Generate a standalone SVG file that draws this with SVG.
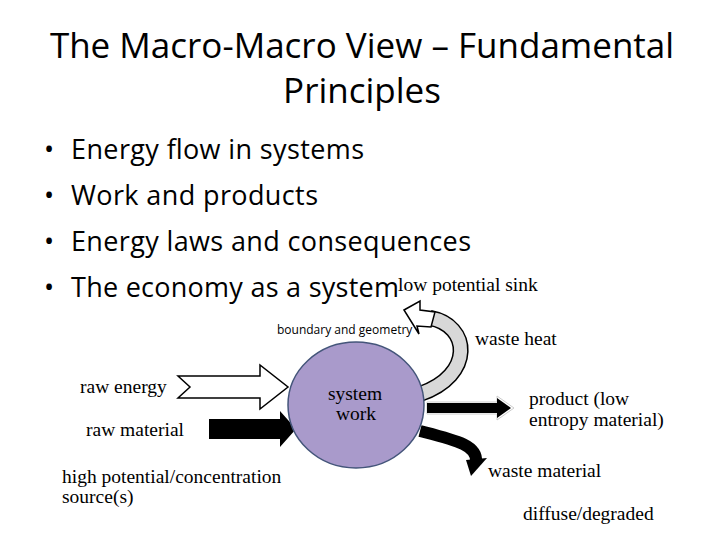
<svg xmlns="http://www.w3.org/2000/svg" width="720" height="540" viewBox="0 0 720 540">
<style>
.t{font-family:"Open Sans","Liberation Sans",sans-serif;fill:#000}
.s{font-family:"Liberation Serif",serif;font-size:19.5px;fill:#000}
</style>
<rect width="720" height="540" fill="#fff"/>
<g id="title" class="t" font-size="35" text-anchor="middle">
<text x="362" y="58">The Macro-Macro View – Fundamental</text>
<text x="362" y="103">Principles</text>
</g>
<g id="bullets" class="t" font-size="27">
<text x="44" y="159">•</text><text x="71" y="159" textLength="293">Energy flow in systems</text>
<text x="44" y="205">•</text><text x="71" y="205" textLength="247">Work and products</text>
<text x="44" y="251">•</text><text x="71" y="251" textLength="400">Energy laws and consequences</text>
<text x="44" y="297">•</text><text x="71" y="297" textLength="328">The economy as a system</text>
</g>
<g id="connectors">
<path d="M420,394 C475,375 470,325 430,318" fill="none" stroke="#000" stroke-width="16"/>
<path d="M420,394 C475,375 470,325 430,318" fill="none" stroke="#d8d8d8" stroke-width="13"/>
<polygon points="404,310 420,301 420,310 435,312 431,327 417,326 419,334" fill="#fff" stroke="#000" stroke-width="1.5"/>
<polygon points="178,376 260,376 260,365 288,387 260,409 260,398 178,398 190,387" fill="#fff" stroke="#000" stroke-width="1.5"/>
<polygon points="209,419 280,419 280,411 296,429 280,447 280,439 209,439" fill="#000"/>
<polygon points="427,402 497,402 497,396 514,408 497,420 497,414 427,414" fill="#fff" stroke="#ccc" stroke-width="1"/>
<polygon points="427,403 497,403 497,398 511,408 497,418 497,413 427,413" fill="#000"/>
<path d="M420,431 C455,440 478,445 476,462" fill="none" stroke="#000" stroke-width="12"/>
<polygon points="466,460 487,458 471,476" fill="#000"/>
</g>
<g id="system">
<ellipse cx="356" cy="405" rx="68" ry="63" fill="#a99acb" stroke="#44557a" stroke-width="1.5"/>
<text class="s" x="355" y="400" text-anchor="middle" font-size="17">system</text>
<text class="s" x="356" y="420" text-anchor="middle" font-size="17">work</text>
</g>
<g id="labels">
<text class="t" x="277" y="334" font-size="12">boundary and geometry</text>
<text class="s" x="398" y="291">low potential sink</text>
<text class="s" x="475" y="345">waste heat</text>
<text class="s" x="80" y="393">raw energy</text>
<text class="s" x="86" y="436">raw material</text>
<text class="s" x="529" y="405">product (low</text>
<text class="s" x="529" y="426">entropy material)</text>
<text class="s" x="488" y="477">waste material</text>
<text class="s" x="62" y="483">high potential/concentration</text>
<text class="s" x="62" y="503">source(s)</text>
<text class="s" x="523" y="520">diffuse/degraded</text>
</g>
</svg>
